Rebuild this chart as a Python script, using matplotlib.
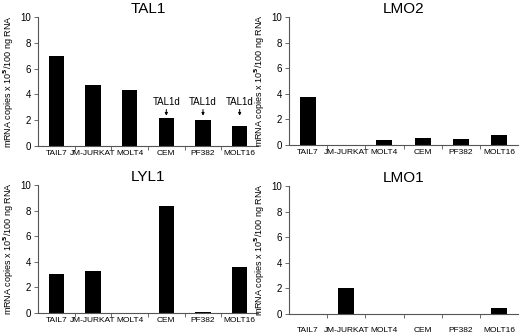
import matplotlib.pyplot as plt
import numpy as np

plt.rcParams['font.family'] = ['Liberation Sans', 'DejaVu Sans']

cells = ['TAIL7', 'JM-JURKAT', 'MOLT4', 'CEM', 'PF382', 'MOLT16']
tal1 = [7.0, 4.73, 4.31, 2.18, 2.0, 1.58]
lmo2 = [3.73, 0.0, 0.39, 0.55, 0.44, 0.76]
lyl1 = [3.04, 3.25, 0.0, 8.35, 0.1, 3.56]
lmo1 = [0.0, 2.06, 0.0, 0.0, 0.0, 0.47]
tal1d_cells = ['CEM', 'PF382', 'MOLT16']

W, H = 520, 336
fig = plt.figure(figsize=(W / 100, H / 100), dpi=100)


def panel(rect, title, vals, label_pad=3):
    l, b, w, h = rect
    ax = fig.add_axes([l / W, (H - b) / H, w / W, h / H])
    x = np.arange(len(cells))
    ax.bar(x, vals, width=0.42, color='black')
    ax.set_xlim(-0.5, len(cells) - 0.5)
    ax.set_ylim(0, 10)
    ax.set_yticks([0, 2, 4, 6, 8, 10])
    ax.set_xticks(x)
    ax.set_xticklabels(cells, fontsize=6)
    ax.set_xticks(np.arange(len(cells) - 1) + 0.5, minor=True)
    ax.tick_params(axis='x', which='major', length=0, pad=label_pad)
    ax.tick_params(axis='x', which='minor', length=3, width=0.6, color='#555555')
    ax.tick_params(axis='y', labelsize=7, length=3, width=0.6, color='#555555', pad=2)
    for s in ['top', 'right']:
        ax.spines[s].set_visible(False)
    for s in ['left', 'bottom']:
        ax.spines[s].set_color('#555555')
        ax.spines[s].set_linewidth(0.8)
    ax.set_title(title, fontsize=11, pad=3)
    ax.set_ylabel(r'mRNA copies x 10$^{\mathbf{5}}$/100 ng RNA', fontsize=6.5, labelpad=3)
    return ax


ax1 = panel((38, 146, 220, 129), 'TAL1', tal1)
for i, c in enumerate(cells):
    if c in tal1d_cells:
        ax1.annotate('TAL1d', xy=(i, 2.35), xytext=(i, 3.05),
                     ha='center', va='bottom', fontsize=7,
                     arrowprops=dict(arrowstyle='-|>', color='black', lw=0.7,
                                     mutation_scale=4, shrinkA=0, shrinkB=0))

panel((289, 145, 229, 128), 'LMO2', lmo2)
panel((38, 313, 220, 128), 'LYL1', lyl1)
panel((289, 314, 229, 128), 'LMO1', lmo1, label_pad=9)

fig.savefig('out.png', dpi=100)
